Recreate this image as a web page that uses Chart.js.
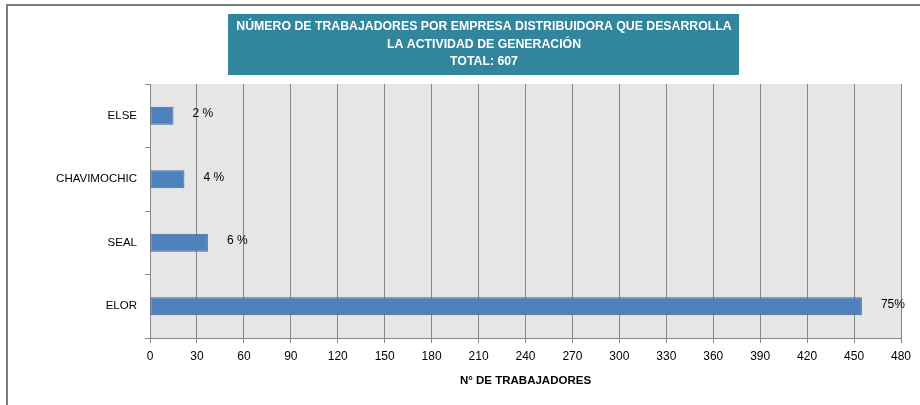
<!DOCTYPE html>
<html lang="es">
<head>
    <meta charset="UTF-8">
    <title>Trabajadores por empresa distribuidora</title>
    <script src="https://cdn.jsdelivr.net/npm/chart.js"></script>
    <style>
        body { margin: 0; background: #fff; }
        #wrap { position: relative; width: 920px; height: 405px; }
    </style>
</head>
<body>
    <div id="wrap">
        <canvas id="chart" width="920" height="405"></canvas>
    </div>

    <script>
        // data
        const empresas = ['ELSE', 'CHAVIMOCHIC', 'SEAL', 'ELOR'];
        const trabajadores = [15, 22, 37, 455];
        const porcentajes = ['2 %', '4 %', '6 %', '75%'];
        const titulo = [
            'NÚMERO DE TRABAJADORES POR EMPRESA DISTRIBUIDORA QUE DESARROLLA',
            'LA ACTIVIDAD DE GENERACIÓN',
            'TOTAL: 607'
        ];
        const ejeX = 'N° DE TRABAJADORES';

        const FONT = '"Liberation Sans", Arial, sans-serif';
        const gridGray = '#878787';

        // plot background, outer frame, title box and value labels
        const decor = {
            id: 'decor',
            beforeDraw(chart) {
                const ctx = chart.ctx;
                const a = chart.chartArea;
                ctx.save();
                ctx.fillStyle = '#e6e6e6';
                ctx.fillRect(a.left, a.top, a.right - a.left, a.bottom - a.top);

                // frame lines top & left
                ctx.strokeStyle = '#7a7a7a';
                ctx.lineWidth = 2;
                ctx.beginPath();
                ctx.moveTo(920, 5);
                ctx.lineTo(7, 5);
                ctx.lineTo(7, 405);
                ctx.stroke();

                // title box
                ctx.fillStyle = '#31859c';
                ctx.fillRect(228, 14, 511, 61);
                ctx.fillStyle = '#ffffff';
                ctx.font = 'bold 12.3px ' + FONT;
                ctx.textAlign = 'center';
                ctx.textBaseline = 'middle';
                titulo.forEach((t, i) => ctx.fillText(t, 484, 27 + i * 17.5));
                ctx.restore();
            },
            afterDatasetsDraw(chart) {
                const ctx = chart.ctx;
                const meta = chart.getDatasetMeta(0);
                ctx.save();
                ctx.fillStyle = '#000';
                ctx.font = '12px ' + FONT;
                ctx.textAlign = 'left';
                ctx.textBaseline = 'middle';
                meta.data.forEach((bar, i) => {
                    ctx.fillText(porcentajes[i], bar.x + 19, bar.y - 2);
                });
                ctx.restore();
            }
        };

        new Chart(document.getElementById('chart'), {
            type: 'bar',
            data: {
                labels: empresas,
                datasets: [{
                    data: trabajadores,
                    backgroundColor: '#4f81bd',
                    borderColor: '#3d6a9e',
                    borderWidth: 1,
                    borderSkipped: false,
                    barPercentage: 0.28,
                    categoryPercentage: 1
                }]
            },
            options: {
                indexAxis: 'y',
                responsive: false,
                animation: false,
                layout: { padding: { top: 84, right: 19, bottom: 0, left: 0 } },
                plugins: {
                    legend: { display: false },
                    title: { display: false },
                    tooltip: { enabled: false }
                },
                scales: {
                    x: {
                        min: 0,
                        max: 480,
                        ticks: { stepSize: 30, padding: 6, color: '#000', font: { family: FONT, size: 12 } },
                        grid: { color: gridGray, tickLength: 5, drawTicks: true },
                        border: { color: gridGray },
                        title: {
                            display: true,
                            text: ejeX,
                            color: '#000',
                            font: { family: FONT, size: 11.5, weight: 'bold' },
                            padding: { top: 0, bottom: 17 }
                        },
                        afterFit(axis) { axis.height = 67; }
                    },
                    y: {
                        ticks: { padding: 8, color: '#000', font: { family: FONT, size: 11.5 } },
                        grid: { offset: true, drawOnChartArea: false, tickLength: 5, color: gridGray },
                        border: { color: gridGray },
                        afterFit(axis) { axis.width = 150; }
                    }
                }
            },
            plugins: [decor]
        });
    </script>
</body>
</html>
